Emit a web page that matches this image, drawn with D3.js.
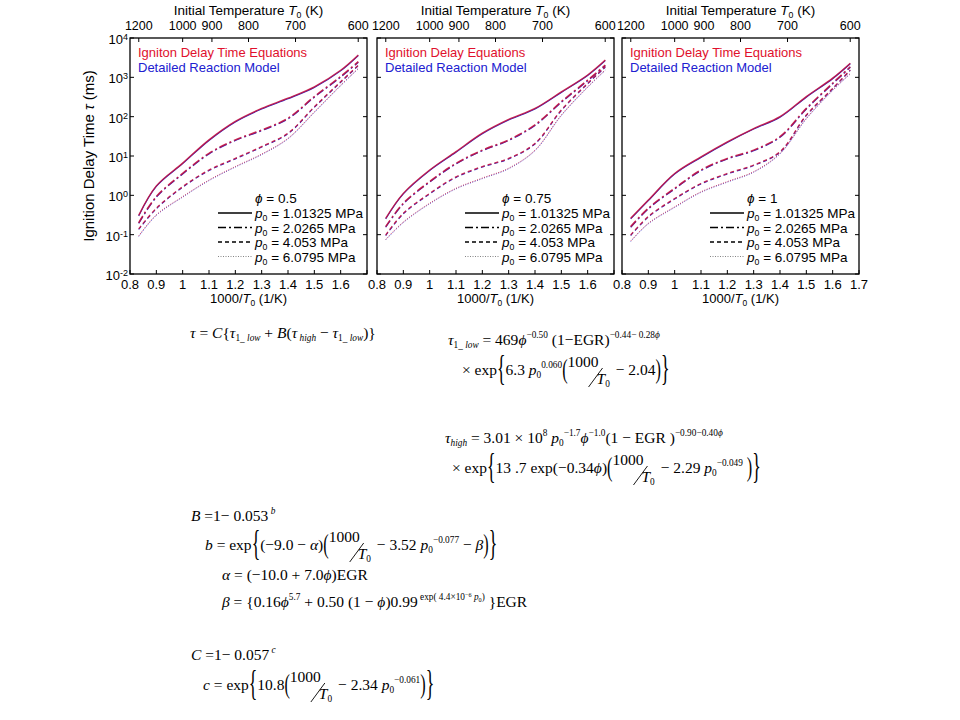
<!DOCTYPE html>
<html>
<head>
<meta charset="utf-8">
<script src="https://cdn.jsdelivr.net/npm/d3@7"></script>
<style>
  body { margin: 0; background: #fff; }
  svg text { white-space: pre; }
</style>
</head>
<body>
<div id="chart"></div>
<script>
// 1000/T0 positions where the curves were read
const invT = [0.833, 0.9, 1.0, 1.1, 1.2, 1.3, 1.4, 1.5, 1.6, 1.667];

const pressures = ["1.01325", "2.0265", "4.053", "6.0795"];
const phis = ["0.5", "0.75", "1"];
const eqTitles = ["Igniton Delay Time Equations", "Ignition Delay Equations", "Ignition Delay Time Equations"];
const modelTitle = "Detailed Reaction Model";

// ignition delay (ms), one array per pressure, per panel
const tauPhi05 = [
  [0.31, 1.74, 6.6, 25.7, 76, 162, 295, 575, 1510, 3700],
  [0.20, 0.93, 3.6, 11.7, 25.7, 45.7, 91, 324, 1050, 2500],
  [0.14, 0.47, 1.66, 4.4, 8.7, 17.4, 38, 178, 776, 2040],
  [0.093, 0.32, 0.93, 2.45, 5.4, 11.2, 28.2, 132, 631, 1700]
];
const tauPhi075 = [
  [0.26, 1.12, 4.4, 12.9, 38, 85, 162, 427, 1150, 2750],
  [0.16, 0.63, 2.24, 6.5, 14.1, 25.7, 62, 240, 850, 2040],
  [0.098, 0.35, 1.12, 2.95, 5.4, 8.7, 20.9, 148, 708, 1860],
  [0.076, 0.21, 0.63, 1.51, 2.75, 4.9, 14.1, 110, 575, 1550]
];
const tauPhi1 = [
  [0.26, 0.76, 3.6, 9.5, 22.9, 50, 100, 324, 955, 2290],
  [0.16, 0.47, 1.51, 4.4, 8.7, 14.1, 31, 162, 708, 1860],
  [0.098, 0.29, 0.83, 2.0, 3.6, 5.9, 12.9, 110, 525, 1550],
  [0.069, 0.195, 0.51, 1.23, 2.24, 4.0, 11.7, 91, 479, 1260]
];
const panelData = [tauPhi05, tauPhi075, tauPhi1];

const xTicks = [0.8, 0.9, 1.0, 1.1, 1.2, 1.3, 1.4, 1.5, 1.6, 1.7];
const tempTicks = [1200, 1000, 900, 800, 700, 600];
const yTicks = [-2, -1, 0, 1, 2, 3, 4];

const W = 960, H = 720;
const svg = d3.select("#chart").append("svg")
    .attr("width", W).attr("height", H)
    .style("font-family", "'Liberation Sans', Arial, sans-serif");

const panelLeft = [130, 377, 622];
const pTop = 38, pW = 237, pH = 236;

const x = d3.scaleLinear().domain([0.8, 1.7]).range([0, pW]);
const y = d3.scaleLog().domain([0.01, 1e4]).range([pH, 0]);

const dashes = [null, "8,3,2,3", "4,3", "1,1.5"];
const widths = [1.4, 1.6, 1.3, 0.9];

const line = d3.line()
    .x((d, i) => x(invT[i]))
    .y(d => y(d))
    .curve(d3.curveCatmullRom.alpha(0.5));

// small helper for "p0", "T0" style labels
function subLabel(t, main, subTxt, rest) {
    t.append("tspan").text(main[0]);
    t.append("tspan").style("font-style", "italic").text(main[1]);
    t.append("tspan").attr("dy", 3).style("font-size", "0.65em").text(subTxt);
    t.append("tspan").attr("dy", -3).text(rest);
}

panelLeft.forEach((left, pi) => {
    const g = svg.append("g").attr("transform", `translate(${left},${pTop})`);

    // curves: detailed model (blue) underneath, equations (red) on top
    panelData[pi].forEach((series, si) => {
        g.append("path")
            .attr("d", line(series))
            .attr("fill", "none")
            .attr("stroke", "#2a2ac8")
            .attr("stroke-width", widths[si] * 0.8)
            .attr("stroke-dasharray", dashes[si])
            .attr("transform", "translate(0,0.6)");
        g.append("path")
            .attr("d", line(series))
            .attr("fill", "none")
            .attr("stroke", "#c4103c")
            .attr("stroke-opacity", 0.88)
            .attr("stroke-width", widths[si])
            .attr("stroke-dasharray", dashes[si]);
    });

    // frame
    g.append("rect").attr("width", pW).attr("height", pH)
        .attr("fill", "none").attr("stroke", "#000").attr("stroke-width", 1.3);

    // bottom ticks
    xTicks.forEach(v => {
        g.append("line").attr("x1", x(v)).attr("x2", x(v))
            .attr("y1", pH).attr("y2", pH - 4).attr("stroke", "#000");
        if (v < 1.65 || pi === 2) {
            g.append("text").attr("x", x(v)).attr("y", pH + 15)
                .attr("text-anchor", "middle").style("font-size", "13px")
                .text(d3.format(".1~f")(v));
        }
    });
    g.append("text").attr("x", pW / 2).attr("y", pH + 29)
        .attr("text-anchor", "middle").style("font-size", "13px")
        .call(t => subLabel(t, ["1000/", "T"], "0", " (1/K)"));

    // top ticks (temperature)
    tempTicks.forEach(T => {
        const px = x(1000 / T);
        g.append("line").attr("x1", px).attr("x2", px)
            .attr("y1", 0).attr("y2", 4).attr("stroke", "#000");
        g.append("text").attr("x", px).attr("y", -8)
            .attr("text-anchor", "middle").style("font-size", "12.5px").text(T);
    });
    g.append("text").attr("x", pW / 2).attr("y", -23)
        .attr("text-anchor", "middle").style("font-size", "13.5px")
        .call(t => subLabel(t, ["Initial Temperature ", "T"], "0", " (K)"));

    // y ticks both sides
    yTicks.forEach(e => {
        const py = y(Math.pow(10, e));
        g.append("line").attr("x1", 0).attr("x2", 4).attr("y1", py).attr("y2", py).attr("stroke", "#000");
        g.append("line").attr("x1", pW).attr("x2", pW - 4).attr("y1", py).attr("y2", py).attr("stroke", "#000");
        if (pi === 0) {
            g.append("text").attr("x", -2).attr("y", py + 6)
                .attr("text-anchor", "end").style("font-size", "13px")
                .call(t => {
                    t.append("tspan").text("10");
                    t.append("tspan").attr("dy", -4).style("font-size", "9px").text(e);
                });
        }
    });

    // top-left legend
    g.append("text").attr("x", 8).attr("y", 19).attr("fill", "#e0102c")
        .style("font-size", "13px").text(eqTitles[pi]);
    g.append("text").attr("x", 8).attr("y", 34).attr("fill", "#2020d0")
        .style("font-size", "13px").text(modelTitle);

    // lower-right legend
    const lx = 88, tx = 125;
    g.append("text").attr("x", tx).attr("y", 165).style("font-size", "13.5px")
        .call(t => {
            t.append("tspan").style("font-style", "italic").text("\u03d5");
            t.append("tspan").text(" = " + phis[pi]);
        });
    pressures.forEach((p, si) => {
        const ly = 180 + si * 14.5;
        g.append("line").attr("x1", lx).attr("x2", tx - 3)
            .attr("y1", ly - 5).attr("y2", ly - 5)
            .attr("stroke", si === 3 ? "#666" : "#000")
            .attr("stroke-width", si === 3 ? 0.8 : 1.4)
            .attr("stroke-dasharray", dashes[si]);
        g.append("text").attr("x", tx).attr("y", ly).style("font-size", "13.5px")
            .call(t => subLabel(t, ["", "p"], "0", " = " + p + " MPa"));
    });
});

// y axis title
svg.append("text")
    .attr("transform", `translate(94,${pTop + pH / 2}) rotate(-90)`)
    .attr("text-anchor", "middle").style("font-size", "15px")
    .call(t => {
        t.append("tspan").text("Ignition Delay Time ");
        t.append("tspan").style("font-style", "italic").text("\u03c4");
        t.append("tspan").text(" (ms)");
    });

// ---- equations ----
const eqG = svg.append("g").style("font-family", "'Liberation Serif', 'Times New Roman', serif");
const base = 15.5;
const N = t => ({t});
const I = t => ({t, i: 1});
const sup = (t, i) => ({t, i, s: 0.6, dy: -7});
const sub = (t, i) => ({t, i, s: 0.6, dy: 3});
const big = t => ({t, s: 1.15, k: 2.0, dy: 5});   // tall thin brace
const med = t => ({t, s: 1.05, k: 1.7, dy: 3});   // tall paren
const FRAC = {frac: 1};

function eq(x0, y0, parts) {
    let cx = x0;
    const put = (t, px, py, fs, it, k) => {
        const el = eqG.append("text")
            .attr("transform", `translate(${px},${py}) scale(1,${k || 1})`)
            .style("font-size", fs + "px").style("font-style", it ? "italic" : "normal").text(t);
        return el.node().getComputedTextLength();
    };
    parts.forEach(p => {
        if (p.frac) {
            const w1 = put("1000", cx, y0 - 8, base, 0);
            eqG.append("line")
                .attr("x1", cx + w1 + 4).attr("y1", y0 - 7)
                .attr("x2", cx + w1 - 10).attr("y2", y0 + 12)
                .attr("stroke", "#000").attr("stroke-width", 0.9);
            const w2 = put("T", cx + w1 - 2, y0 + 9, base, 1);
            const w3 = put("0", cx + w1 - 2 + w2, y0 + 12, base * 0.6, 0);
            cx += w1 + w2 + w3;
            return;
        }
        cx += put(p.t, cx, y0 + (p.dy || 0), base * (p.s || 1), p.i, p.k);
    });
}

eq(190, 338, [I("\u03c4"), N(" = "), I("C"), N("{"), I("\u03c4"), sub("1_ "), sub("low", 1), N(" + "), I("B"),
    N("("), I("\u03c4"), sub(" high", 1), N(" \u2212 "), I("\u03c4"), sub("1_ "), sub("low", 1), N(")}")]);

eq(448, 345, [I("\u03c4"), sub("1_ "), sub("low", 1), N(" = 469"), I("\u03d5"), sup("\u22120.50"), N(" (1\u2212EGR)"),
    sup("\u22120.44\u2212 0.28"), sup("\u03d5", 1)]);
eq(462, 375, [N("\u00d7 exp"), big("{"), N("6.3 "), I("p"), sub("0"), sup("0.060"), med("("), FRAC, N(" \u2212 2.04"),
    med(")"), big("}")]);

eq(445, 443, [I("\u03c4"), sub("high", 1), N(" = 3.01 \u00d7 10"), sup("8"), N(" "), I("p"), sub("0"), sup("\u22121.7"),
    I("\u03d5"), sup("\u22121.0"), N("(1 \u2212 EGR )"), sup("\u22120.90\u22120.40"), sup("\u03d5", 1)]);
eq(452, 473, [N("\u00d7 exp"), big("{"), N("13 .7 exp(\u22120.34"), I("\u03d5"), N(")"), med("("), FRAC,
    N(" \u2212 2.29 "), I("p"), sub("0"), sup("\u22120.049"), N(" "), med(")"), big("}")]);

eq(191, 521, [I("B"), N(" =1\u2212 0.053"), sup(" b", 1)]);
eq(205, 550, [I("b"), N(" = exp"), big("{"), N("(\u22129.0 \u2212 "), I("\u03b1"), N(")"), med("("), FRAC,
    N(" \u2212 3.52 "), I("p"), sub("0"), sup("\u22120.077"), N(" \u2212 "), I("\u03b2"), med(")"), big("}")]);
eq(222, 580, [I("\u03b1"), N(" = (\u221210.0 + 7.0"), I("\u03d5"), N(")EGR")]);
eq(222, 607, [I("\u03b2"), N(" = {0.16"), I("\u03d5"), sup("5.7"), N(" + 0.50 (1 \u2212 "), I("\u03d5"), N(")0.99"),
    sup(" exp( 4.4\u00d710"), {t: "\u22126", s: 0.4, dy: -10}, sup(" "), sup("p", 1), {t: "0", s: 0.4, dy: -5}, sup(")"),
    N(" }EGR")]);

eq(191, 660, [I("C"), N(" =1\u2212 0.057"), sup(" c", 1)]);
eq(203, 690, [I("c"), N(" = exp"), big("{"), N("10.8"), med("("), FRAC, N(" \u2212 2.34 "), I("p"), sub("0"),
    sup("\u22120.061"), med(")"), big("}")]);
</script>
</body>
</html>
